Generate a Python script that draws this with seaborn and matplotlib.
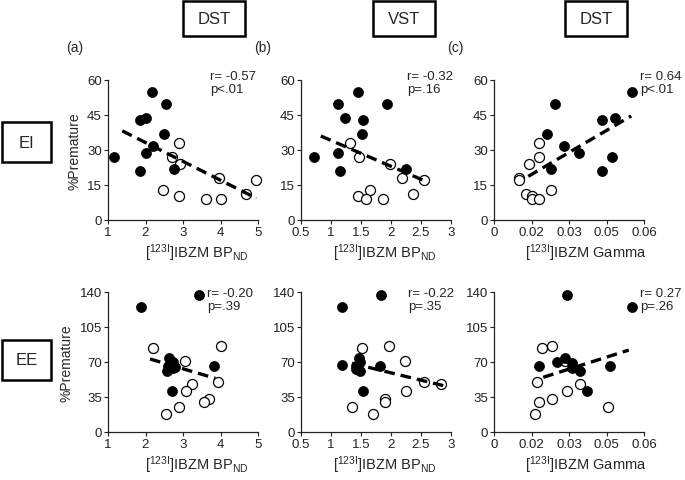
"""
plot.py — EI / EE %Premature vs [123I]IBZM scatter panels (DST, VST, DST gamma).
"""
import matplotlib
matplotlib.use("Agg")
import matplotlib.pyplot as plt
import matplotlib.patches as patches
import pandas as pd
import seaborn as sns

# ---- data ----
# top row (EI), y = %Premature
ei_dst_filled_x = [1.16, 2.16, 2.54, 1.85, 2.01, 2.50, 2.19, 2.01, 1.86, 2.76]
ei_dst_filled_y = [27.1, 55.0, 49.9, 42.7, 43.9, 36.9, 31.8, 28.8, 20.9, 21.9]
ei_dst_open_x = [2.90, 2.70, 2.93, 2.46, 2.88, 3.60, 4.00, 3.96, 4.69, 4.94]
ei_dst_open_y = [32.9, 26.9, 23.9, 13.0, 10.1, 9.1, 9.0, 17.9, 11.1, 17.0]
ei_dst_fit_x = [1.38, 4.96]
ei_dst_fit_y = [38.2, 9.3]

ei_vst_filled_x = [0.71, 1.45, 1.12, 1.94, 1.23, 1.53, 1.52, 1.12, 1.15, 2.25]
ei_vst_filled_y = [27.1, 55.0, 49.9, 49.9, 43.7, 42.9, 36.9, 28.9, 20.9, 21.8]
ei_vst_open_x = [1.32, 1.46, 1.99, 2.19, 2.55, 2.37, 1.65, 1.45, 1.58, 1.86]
ei_vst_open_y = [32.9, 26.9, 23.9, 17.9, 17.0, 11.1, 13.0, 10.1, 9.0, 9.1]
ei_vst_fit_x = [0.83, 2.56]
ei_vst_fit_y = [36.0, 16.8]

ei_gam_filled_x = [0.0551, 0.0242, 0.0431, 0.0482, 0.0212, 0.0281, 0.0341, 0.0471, 0.0229, 0.0431]
ei_gam_filled_y = [55.0, 49.9, 42.9, 43.7, 36.9, 31.8, 28.8, 26.9, 21.9, 20.9]
ei_gam_open_x = [0.0181, 0.0181, 0.0141, 0.0101, 0.0101, 0.0128, 0.0150, 0.0150, 0.0181, 0.0229]
ei_gam_open_y = [32.9, 26.9, 23.9, 17.9, 17.0, 11.1, 10.1, 9.0, 9.0, 13.0]
ei_gam_fit_x = [0.0137, 0.0549]
ei_gam_fit_y = [18.7, 44.6]

# bottom row (EE)
ee_dst_filled_x = [1.89, 3.43, 3.83, 2.70, 2.63, 2.72, 2.61, 2.79, 2.56, 2.74]
ee_dst_filled_y = [125.1, 137.0, 66.0, 41.1, 73.7, 70.0, 66.4, 65.4, 61.4, 63.7]
ee_dst_open_x = [2.19, 4.00, 3.05, 3.25, 3.08, 3.93, 3.70, 3.55, 2.90, 2.54]
ee_dst_open_y = [83.9, 85.9, 71.0, 48.1, 41.1, 49.8, 33.2, 29.9, 25.5, 18.2]
ee_dst_fit_x = [2.12, 3.86]
ee_dst_fit_y = [73.0, 53.7]

ee_vst_filled_x = [1.83, 1.18, 1.185, 1.81, 1.54, 1.47, 1.49, 1.42, 1.49, 1.42]
ee_vst_filled_y = [137.0, 125.1, 66.7, 66.0, 41.1, 73.7, 69.7, 66.4, 61.0, 63.0]
ee_vst_open_x = [1.52, 1.96, 2.23, 2.55, 2.84, 2.25, 1.90, 1.90, 1.35, 1.70]
ee_vst_open_y = [83.9, 85.9, 71.0, 49.8, 48.1, 41.1, 33.2, 29.9, 25.5, 18.2]
ee_vst_fit_x = [1.35, 2.87]
ee_vst_fit_y = [68.7, 46.4]

ee_gam_filled_x = [0.0293, 0.0553, 0.0181, 0.0250, 0.0283, 0.0313, 0.0313, 0.0343, 0.0372, 0.0463]
ee_gam_filled_y = [137.0, 125.1, 66.0, 69.7, 73.7, 68.7, 63.7, 60.7, 41.1, 66.4]
ee_gam_open_x = [0.0193, 0.0233, 0.0283, 0.0173, 0.0343, 0.0293, 0.0233, 0.0181, 0.0454, 0.0164]
ee_gam_open_y = [83.9, 85.9, 71.0, 49.8, 48.1, 41.1, 33.2, 29.9, 25.5, 18.2]
ee_gam_fit_x = [0.0197, 0.0539]
ee_gam_fit_y = [54.7, 81.9]

# axes ticks / labels
bp_dst_ticks = [1, 2, 3, 4, 5]
bp_dst_labels = ["1", "2", "3", "4", "5"]
bp_vst_ticks = [0.5, 1, 1.5, 2, 2.5, 3]
bp_vst_labels = ["0.5", "1", "1.5", "2", "2.5", "3"]
gamma_ticks = [0, 0.015, 0.03, 0.045, 0.06]
gamma_labels = ["0", "0.02", "0.03", "0.05", "0.06"]
ei_yticks = [0, 15, 30, 45, 60]
ee_yticks = [0, 35, 70, 105, 140]

stats_text = [["r= -0.57\np<.01", "r= -0.32\np=.16", "r= 0.64\np<.01"],
              ["r= -0.20\np=.39", "r= -0.22\np=.35", "r= 0.27\np=.26"]]
col_titles = ["DST", "VST", "DST"]
row_titles = ["EI", "EE"]
panel_tags = ["(a)", "(b)", "(c)"]

BP_LABEL = r"[$^{\mathrm{123I}}$]IBZM BP$_{\mathrm{ND}}$"
GAMMA_LABEL = r"[$^{\mathrm{123I}}$]IBZM Gamma"

sns.set_style("ticks")
plt.rcParams["font.family"] = ["Liberation Sans", "DejaVu Sans"]
plt.rcParams["mathtext.fontset"] = "custom"
plt.rcParams["mathtext.rm"] = "Liberation Sans"
plt.rcParams["mathtext.it"] = "Liberation Sans:italic"
plt.rcParams["mathtext.bf"] = "Liberation Sans:bold"

W, H = 685, 481
fig = plt.figure(figsize=(W / 100, H / 100), dpi=100)


def px_box(x0, y0, x1, y1):
    """pixel box (top-left origin) -> figure fraction rect."""
    return [x0 / W, 1 - y1 / H, (x1 - x0) / W, (y1 - y0) / H]


def draw_panel(ax, fx, fy, ox, oy, lx, ly, xlim, xticks, xlabels, ylim, yticks,
               xlabel, label_x, txt, txt_x, txt_y):
    df_o = pd.DataFrame({"x": ox, "y": oy})
    df_f = pd.DataFrame({"x": fx, "y": fy})
    sns.scatterplot(data=df_o, x="x", y="y", ax=ax, s=52, color="white",
                    edgecolor="black", linewidth=0.9, zorder=3, clip_on=False)
    sns.scatterplot(data=df_f, x="x", y="y", ax=ax, s=52, color="black",
                    edgecolor="black", linewidth=0.5, zorder=4, clip_on=False)
    sns.lineplot(x=lx, y=ly, ax=ax, color="black", linewidth=2.4,
                 linestyle=(0, (3.2, 1.8)), zorder=5)
    ax.set_xlim(*xlim)
    ax.set_ylim(*ylim)
    ax.set_xticks(xticks)
    ax.set_xticklabels(xlabels)
    ax.set_yticks(yticks)
    ax.set_yticklabels([str(v) for v in yticks])
    ax.set_xlabel(xlabel, fontsize=10.5)
    ax.xaxis.set_label_coords(label_x, -0.15)
    ax.set_ylabel("")
    ax.tick_params(direction="out", length=3, width=0.8, pad=1.5,
                   labelsize=9.5, colors="#222222")
    for side in ["left", "bottom"]:
        ax.spines[side].set_linewidth(0.9)
        ax.spines[side].set_color("#222222")
    sns.despine(ax=ax)
    ax.text(txt_x, txt_y, txt, transform=ax.transAxes, ha="left", va="top",
            fontsize=9.5, linespacing=1.05)


rows = [
    [(ei_dst_filled_x, ei_dst_filled_y, ei_dst_open_x, ei_dst_open_y, ei_dst_fit_x, ei_dst_fit_y),
     (ei_vst_filled_x, ei_vst_filled_y, ei_vst_open_x, ei_vst_open_y, ei_vst_fit_x, ei_vst_fit_y),
     (ei_gam_filled_x, ei_gam_filled_y, ei_gam_open_x, ei_gam_open_y, ei_gam_fit_x, ei_gam_fit_y)],
    [(ee_dst_filled_x, ee_dst_filled_y, ee_dst_open_x, ee_dst_open_y, ee_dst_fit_x, ee_dst_fit_y),
     (ee_vst_filled_x, ee_vst_filled_y, ee_vst_open_x, ee_vst_open_y, ee_vst_fit_x, ee_vst_fit_y),
     (ee_gam_filled_x, ee_gam_filled_y, ee_gam_open_x, ee_gam_open_y, ee_gam_fit_x, ee_gam_fit_y)],
]
col_x = [(108, 258), (301, 451), (494, 644)]
row_y = [(81, 221), (293, 433)]
x_setup = [((1, 5), bp_dst_ticks, bp_dst_labels, BP_LABEL, 0.59),
           ((0.5, 3), bp_vst_ticks, bp_vst_labels, BP_LABEL, 0.56),
           ((0, 0.06), gamma_ticks, gamma_labels, GAMMA_LABEL, 0.61)]
y_setup = [((0, 60), ei_yticks), ((0, 140), ee_yticks)]
txt_pos = [[(0.68, 1.07), (0.707, 1.07), (0.975, 1.07)],
           [(0.66, 1.035), (0.713, 1.035), (0.975, 1.035)]]

for r in range(2):
    for c in range(3):
        ax = fig.add_axes(px_box(col_x[c][0], row_y[r][0], col_x[c][1], row_y[r][1]))
        fx, fy, ox, oy, lx, ly = rows[r][c]
        xlim, xt, xl, xlab, lab_x = x_setup[c]
        ylim, yt = y_setup[r]
        tx, ty = txt_pos[r][c]
        draw_panel(ax, fx, fy, ox, oy, lx, ly, xlim, xt, xl, ylim, yt,
                   xlab, lab_x, stats_text[r][c], tx, ty)
        if c == 0:
            ax.set_ylabel("%Premature", fontsize=10, labelpad=4)

# column header boxes and panel tags
header_px = [(183, 245), (373, 435), (565, 627)]
tag_px = [75, 263, 455]
for (x0, x1), title, tag, tx in zip(header_px, col_titles, panel_tags, tag_px):
    rect = patches.Rectangle(((x0) / W, 1 - 37 / H), (x1 - x0) / W, 35 / H,
                             transform=fig.transFigure, fill=False,
                             edgecolor="black", linewidth=1.8)
    fig.patches.append(rect)
    fig.text((x0 + x1) / 2 / W, 1 - 19.5 / H, title, ha="center", va="center",
             fontsize=12)
    fig.text(tx / W, 1 - 48 / H, tag, ha="center", va="center", fontsize=10)

# row header boxes
for (y0, y1), title in zip([(123, 163), (341, 381)], row_titles):
    rect = patches.Rectangle((2 / W, 1 - y1 / H), 49 / W, (y1 - y0) / H,
                             transform=fig.transFigure, fill=False,
                             edgecolor="black", linewidth=1.8)
    fig.patches.append(rect)
    fig.text(26.5 / W, 1 - (y0 + y1) / 2 / H, title, ha="center", va="center",
             fontsize=12)

fig.savefig("out.png", dpi=100)
